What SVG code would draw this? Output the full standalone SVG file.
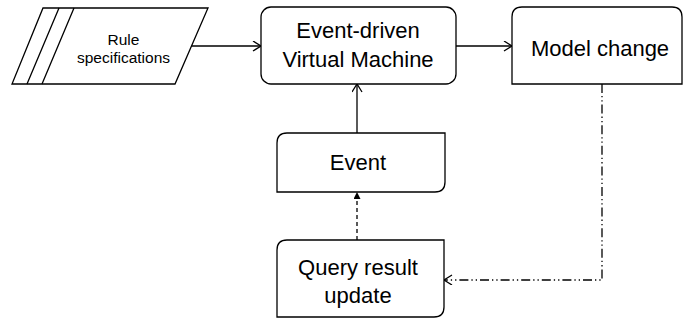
<svg xmlns="http://www.w3.org/2000/svg" width="683" height="320" viewBox="0 0 683 320">
  <style>
    .shape { fill: #ffffff; stroke: #000000; stroke-width: 1.3; }
    .label { font-family: "Liberation Sans", Arial, sans-serif; font-size: 22px; fill: #000000; text-anchor: middle; }
    .small { font-size: 15.5px; }
    .edge { fill: none; stroke: #000000; stroke-width: 1.3; }
    .dashed { stroke-dasharray: 4 3; }
    .dashdotdot { stroke-dasharray: 9 3 1.3 3 1.3 3; }
  </style>
  <defs>
    <marker id="open" markerUnits="userSpaceOnUse" markerWidth="12" markerHeight="12" refX="9" refY="5" orient="auto">
      <path d="M1,0 L9,5 L1,10" fill="none" stroke="#000000" stroke-width="1.3"/>
    </marker>
    <marker id="solid" markerUnits="userSpaceOnUse" markerWidth="10" markerHeight="10" refX="7" refY="3.5" orient="auto">
      <path d="M0,0 L7,3.5 L0,7 Z" fill="#000000"/>
    </marker>
  </defs>

  <g id="connectors">
    <path class="edge" d="M191.5,46 H261" marker-end="url(#open)"/>
    <path class="edge" d="M456,46 H512" marker-end="url(#open)"/>
    <path class="edge" d="M357,133 V84" marker-end="url(#open)"/>
    <path class="edge dashed" d="M357,240 V192" marker-end="url(#solid)"/>
    <path class="edge dashdotdot" d="M602,84 V280 H444" marker-end="url(#open)"/>
  </g>

  <g id="rule-specifications">
    <path class="shape" d="M43,8 L208,8 L175,84 L12,84 Z"/>
    <path class="edge" d="M59,8 L27,84 M74,8 L42,84"/>
    <text class="label small" x="123.5" y="45">Rule</text>
    <text class="label small" x="123.5" y="63">specifications</text>
  </g>

  <g id="virtual-machine">
    <rect class="shape" x="261" y="7" width="195" height="77" rx="10" ry="10"/>
    <text class="label" x="358" y="38">Event-driven</text>
    <text class="label" x="358" y="67">Virtual Machine</text>
  </g>

  <g id="model-change">
    <path class="shape" d="M512,84 V17 Q512,7 522,7 H672 Q682,7 682,17 V84 Z"/>
    <text class="label" x="600" y="56">Model change</text>
  </g>

  <g id="event">
    <path class="shape" d="M287,133 H445 V182 Q445,192 435,192 H277 V143 Q277,133 287,133 Z"/>
    <text class="label" x="358" y="170">Event</text>
  </g>

  <g id="query-result-update">
    <path class="shape" d="M287,240 H444 V307 Q444,317 434,317 H277 V250 Q277,240 287,240 Z"/>
    <text class="label" x="358" y="275">Query result</text>
    <text class="label" x="358" y="303">update</text>
  </g>
</svg>
